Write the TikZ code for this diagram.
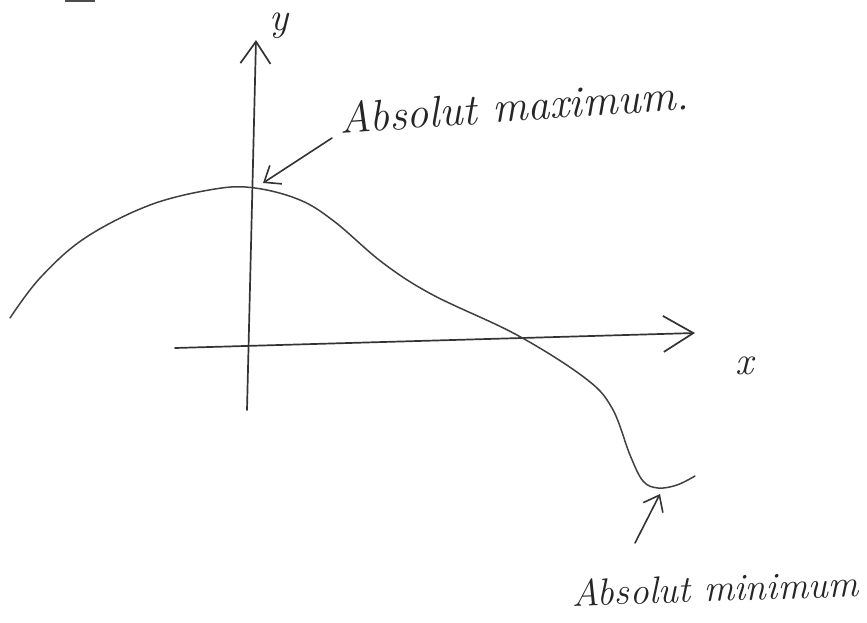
\documentclass[tikz,border=0pt]{standalone}
\usepackage{fontspec}
\usetikzlibrary{arrows.meta, positioning, calc}

\tikzset{
  axisline/.style={black!80, line width=1.7pt, line cap=round},
  curveline/.style={black!75, line width=1.5pt, line cap=round},
  pointer/.style={black!80, line width=1.6pt, line cap=round,
    -{Straight Barb[length=14pt, width=22pt, line width=1.6pt]}},
  handtext/.style={font=\itshape, text=black!85, inner sep=0pt}
}

\begin{document}
\begin{tikzpicture}[x=1pt, y=-1pt]
        \useasboundingbox (0,0) rectangle (867,622);

        % Axes
        \coordinate (yfoot) at (247,410);
        \coordinate (ytip) at (256,40);
        \coordinate (xfoot) at (175,348);
        \coordinate (xtip) at (695,333);
        \draw[axisline, -{Straight Barb[length=22pt, width=30pt, line width=1.7pt]}] (yfoot) -- (ytip);
        \draw[axisline, -{Straight Barb[length=30pt, width=36pt, line width=1.7pt]}] (xfoot) -- (xtip);
        \node[handtext, font=\fontsize{40}{44}\selectfont\itshape] (ylabel) at (279,26) {y};
        \node[handtext, font=\fontsize{40}{44}\selectfont\itshape] (xlabel) at (744,366) {x};

        % the function
        \draw[curveline] plot[smooth, tension=0.6] coordinates {
          (10,318) (40,278) (85,238) (150,205) (215,189) (255,188) (300,200)
          (335,222) (383,263) (433,295) (517,335) (585,378) (612,408)
          (630,455) (643,481) (658,488) (677,485) (695,476)};

        % Labels and pointers
        \coordinate (top) at (263,183);
        \coordinate (bottom) at (660,494);
        \node[handtext, font=\fontsize{44}{50}\selectfont\itshape, rotate=4] (maxlabel) at (514,106) {Absolut maximum.};
        \coordinate (maxtail) at (332,138);
        \draw[pointer] (maxtail) -- (top);
        \node[handtext, font=\fontsize{38}{44}\selectfont\itshape, rotate=2] (minlabel) at (715,588) {Absolut minimum};
        \coordinate (mintail) at (635,543);
        \draw[pointer] (mintail) -- (bottom);

        % stray mark at the top edge
        \draw[black!70, line width=1.5pt] (65,1) -- (95,1);
    \end{tikzpicture}
\end{document}
